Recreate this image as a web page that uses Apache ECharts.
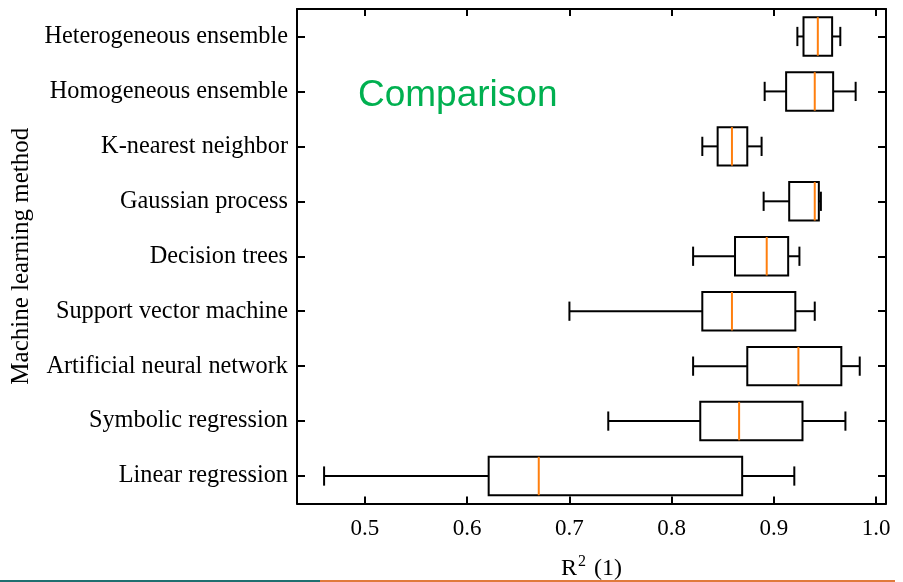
<!DOCTYPE html>
<html>
<head>
<meta charset="utf-8">
<script src="https://cdn.jsdelivr.net/npm/echarts@6/dist/echarts.min.js"></script>
<style>
html,body{margin:0;padding:0;background:#fff;}
#chart{width:903px;height:582px;}
</style>
</head>
<body>
<div id="chart"></div>
<script>
// Categories listed bottom-to-top
const categories = ['Linear regression','Symbolic regression','Artificial neural network','Support vector machine','Decision trees','Gaussian process','K-nearest neighbor','Homogeneous ensemble','Heterogeneous ensemble'];
const whiskerLow  = [0.460, 0.738, 0.821, 0.700, 0.821, 0.890, 0.830, 0.891, 0.923];
const quartile1   = [0.621, 0.828, 0.874, 0.830, 0.862, 0.915, 0.845, 0.912, 0.929];
const medians     = [0.670, 0.866, 0.924, 0.859, 0.893, 0.940, 0.859, 0.940, 0.943];
const quartile3   = [0.869, 0.928, 0.966, 0.921, 0.914, 0.944, 0.874, 0.958, 0.957];
const whiskerHigh = [0.920, 0.970, 0.984, 0.940, 0.925, 0.946, 0.888, 0.980, 0.965];
const xMin = 0.4335, xMax = 1.0097;
const annotation = 'Comparison';

const data = categories.map((c, i) => [i, whiskerLow[i], quartile1[i], medians[i], quartile3[i], whiskerHigh[i]]);

const serif = '"Liberation Serif", "Times New Roman", serif';
const chart = echarts.init(document.getElementById('chart'), null, {renderer: 'canvas'});

const axisLine = {show: true, lineStyle: {color: '#000', width: 2}};
const option = {
  animation: false,
  backgroundColor: '#fff',
  grid: {left: 297, right: 17, top: 9, bottom: 78.5, containLabel: false, outerBoundsMode: 'none'},
  xAxis: [{
    type: 'value', min: xMin, max: xMax, position: 'bottom',
    axisLine: axisLine,
    axisTick: {show: true, inside: true, length: 7, lineStyle: {color: '#000', width: 2}},
    splitLine: {show: false},
    axisLabel: {show: true, showMinLabel: false, showMaxLabel: false, margin: 14, color: '#000', fontFamily: serif, fontSize: 23,
      formatter: v => v.toFixed(1)},
    name: '{r|R}{sup|2}{r| (1)}',
    nameLocation: 'middle', nameGap: 50,
    nameTextStyle: {rich: {
      r: {fontFamily: serif, fontSize: 24, lineHeight: 30, color: '#000'},
      sup: {fontFamily: serif, fontSize: 16, lineHeight: 16, color: '#000', verticalAlign: 'top', padding: [0, 2, 0, 1]}
    }}
  }, {
    type: 'value', min: xMin, max: xMax, position: 'top',
    axisLine: axisLine,
    axisTick: {show: true, inside: true, length: 7, lineStyle: {color: '#000', width: 2}},
    splitLine: {show: false},
    axisLabel: {show: false}
  }],
  yAxis: [{
    type: 'category', data: categories, position: 'left',
    axisLine: axisLine,
    axisTick: {show: true, inside: true, alignWithLabel: true, length: 8, lineStyle: {color: '#000', width: 2}},
    axisLabel: {margin: 9, color: '#000', fontFamily: serif, fontSize: 24.3},
    name: 'Machine learning method', nameLocation: 'middle', nameRotate: 90, nameGap: 262,
    nameTextStyle: {fontFamily: serif, fontSize: 25, color: '#000'}
  }, {
    type: 'category', data: categories, position: 'right',
    axisLine: axisLine,
    axisTick: {show: true, inside: true, alignWithLabel: true, length: 8, lineStyle: {color: '#000', width: 2}},
    axisLabel: {show: false}
  }],
  series: [{
    type: 'custom',
    xAxisIndex: 0, yAxisIndex: 0,
    encode: {x: [1, 2, 3, 4, 5], y: 0},
    data: data,
    renderItem: function (params, api) {
      const idx = api.value(0);
      const pLo = api.coord([api.value(1), idx]);
      const pQ1 = api.coord([api.value(2), idx]);
      const pMd = api.coord([api.value(3), idx]);
      const pQ3 = api.coord([api.value(4), idx]);
      const pHi = api.coord([api.value(5), idx]);
      const band = api.size([0, 1])[1];
      const bh = band * 0.7, ch = band * 0.35;
      const y = pLo[1];
      const ls = {stroke: '#000', lineWidth: 2, fill: null};
      return {type: 'group', children: [
        {type: 'line', shape: {x1: pLo[0], y1: y, x2: pQ1[0], y2: y}, style: ls},
        {type: 'line', shape: {x1: pQ3[0], y1: y, x2: pHi[0], y2: y}, style: ls},
        {type: 'line', shape: {x1: pLo[0], y1: y - ch / 2, x2: pLo[0], y2: y + ch / 2}, style: ls},
        {type: 'line', shape: {x1: pHi[0], y1: y - ch / 2, x2: pHi[0], y2: y + ch / 2}, style: ls},
        {type: 'rect', shape: {x: pQ1[0], y: y - bh / 2, width: pQ3[0] - pQ1[0], height: bh}, style: {stroke: '#000', lineWidth: 2, fill: 'rgba(0,0,0,0)'}},
        {type: 'line', shape: {x1: pMd[0], y1: y - bh / 2, x2: pMd[0], y2: y + bh / 2}, style: {stroke: '#ff7f0e', lineWidth: 2}}
      ]};
    }
  }],
  graphic: [
    {type: 'text', left: 358, top: 77, style: {text: annotation, fontFamily: '"Liberation Sans", Arial, sans-serif', fontSize: 37, fill: '#00b050'}},
    {type: 'rect', left: 0, top: 580, shape: {width: 320, height: 2}, style: {fill: '#1f6f70'}, silent: true},
    {type: 'rect', left: 320, top: 580, shape: {width: 575, height: 2}, style: {fill: '#e07a3c'}, silent: true}
  ]
};
chart.setOption(option);
</script>
</body>
</html>
